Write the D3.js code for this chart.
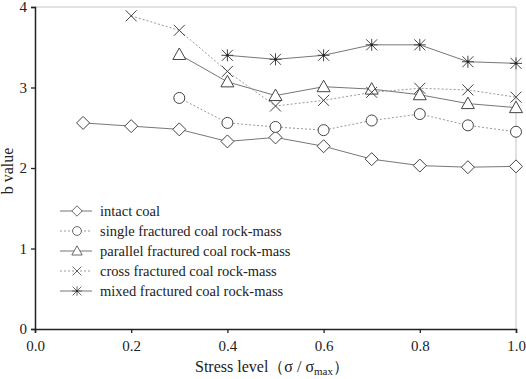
<!DOCTYPE html>
<html>
<head>
<meta charset="utf-8">
<script src="https://cdn.jsdelivr.net/npm/d3@7"></script>
<style>
  body { margin: 0; background: #fff; }
  svg text { font-family: "Liberation Serif", "Times New Roman", serif; fill: #222; }
</style>
</head>
<body>
<div id="chart"></div>
<script>
// values
const stressLevels = [0.1, 0.2, 0.3, 0.4, 0.5, 0.6, 0.7, 0.8, 0.9, 1.0];
const intactCoal   = [2.56, 2.52, 2.48, 2.33, 2.38, 2.27, 2.11, 2.03, 2.01, 2.02];
const singleFrac   = [null, null, 2.87, 2.56, 2.51, 2.47, 2.59, 2.67, 2.53, 2.45];
const parallelFrac = [null, null, 3.41, 3.07, 2.90, 3.01, 2.98, 2.91, 2.80, 2.75];
const crossFrac    = [null, 3.89, 3.71, 3.20, 2.77, 2.84, 2.94, 2.99, 2.97, 2.88];
const mixedFrac    = [null, null, null, 3.40, 3.35, 3.40, 3.53, 3.53, 3.32, 3.30];
const seriesNames = [
  'intact coal',
  'single fractured coal rock-mass',
  'parallel fractured coal rock-mass',
  'cross fractured coal rock-mass',
  'mixed fractured coal rock-mass'
];
const xTicks = [0.0, 0.2, 0.4, 0.6, 0.8, 1.0];
const yTicks = [0, 1, 2, 3, 4];

const series = [
  { name: seriesNames[0], values: intactCoal,   marker: 'diamond',  dashed: false },
  { name: seriesNames[1], values: singleFrac,   marker: 'circle',   dashed: true },
  { name: seriesNames[2], values: parallelFrac, marker: 'triangle', dashed: false },
  { name: seriesNames[3], values: crossFrac,    marker: 'cross',    dashed: true },
  { name: seriesNames[4], values: mixedFrac,    marker: 'asterisk', dashed: false }
];

const width = 526, height = 379;
const margin = { top: 7, right: 10, bottom: 50, left: 35 };
const W = width - margin.left - margin.right;
const H = height - margin.top - margin.bottom;

const x = d3.scaleLinear().domain([0, 1]).range([0, W]);
const y = d3.scaleLinear().domain([0, 4]).range([H, 0]);

const svg = d3.select('#chart').append('svg')
  .attr('width', width).attr('height', height);
const g = svg.append('g').attr('transform', `translate(${margin.left},${margin.top})`);

// light frame on top/right
g.append('line').attr('x1', 0).attr('x2', W).attr('y1', 0).attr('y2', 0)
  .attr('stroke', '#d8d8d8').attr('stroke-width', 1.5);
g.append('line').attr('x1', W).attr('x2', W).attr('y1', 0).attr('y2', H)
  .attr('stroke', '#d8d8d8').attr('stroke-width', 1.5);

const xAxis = g.append('g').attr('transform', `translate(0,${H})`)
  .call(d3.axisBottom(x).tickValues(xTicks).tickFormat(d3.format('.1f')).tickSizeOuter(0).tickSize(4).tickPadding(7));
const yAxis = g.append('g')
  .call(d3.axisLeft(y).tickValues(yTicks).tickFormat(d3.format('d')).tickSizeOuter(0).tickSize(4).tickPadding(4));
[xAxis, yAxis].forEach(ax => {
  ax.attr('font-family', null);
  ax.select('.domain').attr('stroke', '#222').attr('stroke-width', 1.5);
  ax.selectAll('.tick line').attr('stroke', '#222').attr('stroke-width', 1.3);
  ax.selectAll('text').attr('font-size', '15px').attr('fill', '#222');
});

// axis titles
svg.append('text')
  .attr('transform', `translate(13,${margin.top + H / 2 + 3}) rotate(-90)`)
  .attr('text-anchor', 'middle').attr('font-size', '16px').text('b value');

const xt = svg.append('text')
  .attr('x', 272).attr('y', 372)
  .attr('text-anchor', 'middle').attr('font-size', '16px');
xt.append('tspan').text('Stress level（σ / σ');
xt.append('tspan').attr('font-size', '11px').attr('dy', 3).text('max');
xt.append('tspan').attr('dy', -3).text('）');

function drawMarker(sel, type) {
  const common = s => s.attr('fill', '#fff').attr('stroke', '#444').attr('stroke-width', 1);
  if (type === 'diamond') {
    common(sel.append('path').attr('d', 'M0,-6.5L6.5,0L0,6.5L-6.5,0Z'));
  } else if (type === 'circle') {
    common(sel.append('circle').attr('r', 5.5));
  } else if (type === 'triangle') {
    common(sel.append('path').attr('d', 'M0,-6.5L6.5,5L-6.5,5Z'));
  } else if (type === 'cross') {
    sel.append('path').attr('d', 'M-5.5,-5.5L5.5,5.5M-5.5,5.5L5.5,-5.5')
      .attr('stroke', '#444').attr('stroke-width', 1).attr('fill', 'none');
  } else if (type === 'asterisk') {
    sel.append('path').attr('d', 'M-5.5,-5.5L5.5,5.5M-5.5,5.5L5.5,-5.5M0,-6L0,6M-6,0L6,0')
      .attr('stroke', '#444').attr('stroke-width', 1).attr('fill', 'none');
    sel.append('circle').attr('r', 1.3).attr('fill', '#222');
  }
}

const line = d3.line()
  .defined(d => d.v != null)
  .x(d => x(d.x)).y(d => y(d.v));

series.forEach(s => {
  const pts = stressLevels.map((xv, i) => ({ x: xv, v: s.values[i] }));
  g.append('path').datum(pts)
    .attr('d', line)
    .attr('fill', 'none')
    .attr('stroke', s.dashed ? '#999' : '#777')
    .attr('stroke-width', 1)
    .attr('stroke-dasharray', s.dashed ? '2,2' : null);
});

series.forEach(s => {
  stressLevels.forEach((xv, i) => {
    if (s.values[i] == null) return;
    const m = g.append('g').attr('transform', `translate(${x(xv)},${y(s.values[i])})`);
    drawMarker(m, s.marker);
  });
});

// Legend
const leg = svg.append('g').attr('transform', 'translate(60,211)');
series.forEach((s, i) => {
  const row = leg.append('g').attr('transform', `translate(0,${i * 20})`);
  row.append('line').attr('x1', 0).attr('x2', 32).attr('y1', 0).attr('y2', 0)
    .attr('stroke', s.dashed ? '#999' : '#777').attr('stroke-width', 1)
    .attr('stroke-dasharray', s.dashed ? '2,2' : null);
  drawMarker(row.append('g').attr('transform', 'translate(17,0) scale(0.8)'), s.marker);
  row.append('text').attr('x', 40).attr('y', 5).attr('font-size', '14.5px').text(s.name);
});
</script>
</body>
</html>
